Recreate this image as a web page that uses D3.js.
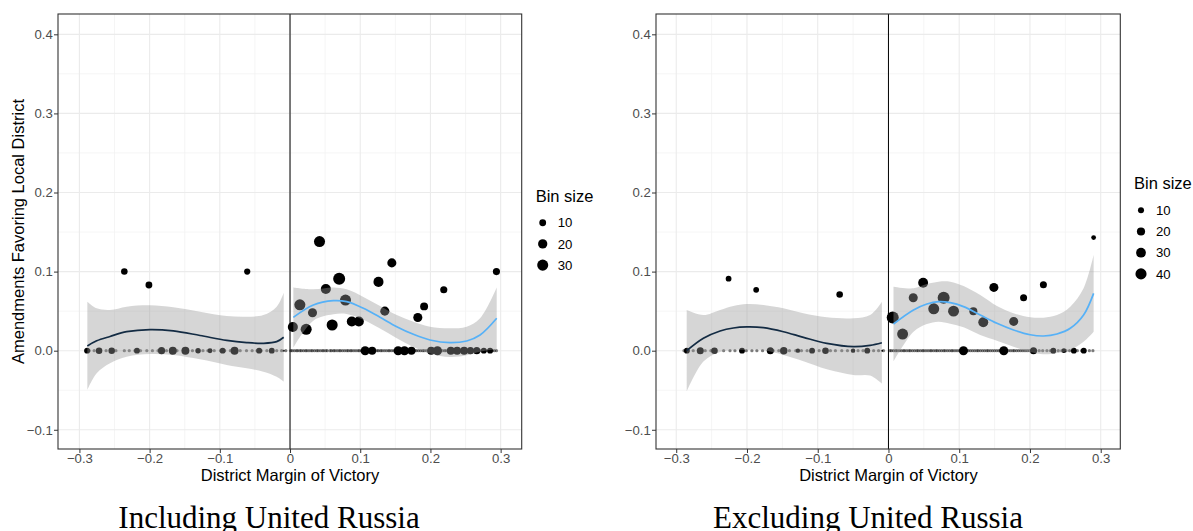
<!DOCTYPE html>
<html>
<head>
<meta charset="utf-8">
<script src="https://cdn.jsdelivr.net/npm/d3@7"></script>
<style>
  html, body { margin: 0; padding: 0; background: #fff; }
  svg { display: block; }
  text { font-family: "Liberation Sans", Arial, sans-serif; }
</style>
</head>
<body>
<svg id="chart" width="1193" height="531"></svg>
<script>
// ticks shared by both panels
const xTickVals = [-0.3, -0.2, -0.1, 0, 0.1, 0.2, 0.3];
const xTickLabels = ["\u22120.3", "\u22120.2", "\u22120.1", "0", "0.1", "0.2", "0.3"];
const xMinorVals = [-0.25, -0.15, -0.05, 0.05, 0.15, 0.25];
const yTickVals = [-0.1, 0, 0.1, 0.2, 0.3, 0.4];
const yTickLabels = ["\u22120.1", "0.0", "0.1", "0.2", "0.3", "0.4"];
const yMinorVals = [-0.05, 0.05, 0.15, 0.25, 0.35];

// ---- Including United Russia ----
const incBinX = [-0.289, -0.272, -0.254, -0.218, -0.183, -0.167, -0.149, -0.131, -0.114, -0.096, -0.079, -0.044, -0.026, -0.009,
  -0.236, -0.201, -0.061,
  0.004, 0.014, 0.023, 0.032, 0.042, 0.051, 0.060, 0.070, 0.079, 0.088, 0.098, 0.107, 0.117, 0.126, 0.135, 0.145,
  0.154, 0.163, 0.173, 0.182, 0.191, 0.201, 0.210, 0.219, 0.229, 0.238, 0.248, 0.257, 0.266, 0.276, 0.285, 0.294];
const incBinY = [0, 0, 0, 0, 0, 0, 0, 0, 0, 0, 0, 0, 0, 0,
  0.100, 0.083, 0.100,
  0.030, 0.058, 0.027, 0.048, 0.138, 0.078, 0.0325, 0.091, 0.064, 0.037, 0.037, 0, 0, 0.087, 0.050, 0.111,
  0, 0, 0, 0.042, 0.056, 0, 0, 0.077, 0, 0, 0, 0, 0, 0, 0, 0.100];
const incBinN = [7, 9, 9, 7, 11, 14, 14, 6, 5, 7, 14, 7, 7, 2,
  9, 10, 8,
  24, 30, 30, 19, 30, 24, 30, 36, 30, 24, 24, 19, 14, 24, 19, 19,
  19, 19, 14, 19, 14, 14, 19, 11, 14, 14, 14, 11, 11, 7, 7, 11];
const incRawX = [-0.291, -0.286, -0.279, -0.274, -0.262, -0.255, -0.248, -0.236, -0.229, -0.221, -0.213, -0.204,
  -0.196, -0.188, -0.181, -0.176, -0.169, -0.161, -0.152, -0.146, -0.139, -0.131, -0.124, -0.117, -0.108,
  -0.099, -0.093, -0.085, -0.077, -0.071, -0.062, -0.054, -0.047, -0.041, -0.033, -0.026, -0.019, -0.012, -0.006,
  0.001, 0.003, 0.006, 0.009, 0.011, 0.014, 0.016, 0.019, 0.022, 0.024, 0.027, 0.030, 0.032, 0.035, 0.038, 0.040,
  0.043, 0.046, 0.048, 0.051, 0.053, 0.057, 0.059, 0.062, 0.064, 0.067, 0.070, 0.072, 0.075, 0.078, 0.081, 0.083,
  0.086, 0.088, 0.091, 0.094, 0.097, 0.099, 0.102, 0.105, 0.107, 0.110, 0.113, 0.115, 0.118, 0.121, 0.124, 0.126,
  0.129, 0.131, 0.134, 0.137, 0.140, 0.142, 0.145, 0.148, 0.150, 0.153, 0.156, 0.159, 0.161, 0.164, 0.167, 0.169,
  0.172, 0.175, 0.178, 0.180, 0.183, 0.186, 0.189, 0.191, 0.194, 0.197, 0.200, 0.203, 0.205, 0.208, 0.211, 0.214,
  0.217, 0.220, 0.222, 0.225, 0.228, 0.231, 0.234, 0.237, 0.240, 0.243, 0.246, 0.249, 0.252, 0.255, 0.258, 0.261,
  0.264, 0.267, 0.270, 0.273, 0.276, 0.279, 0.282, 0.285, 0.288, 0.291, 0.294];
// smooth fits with confidence band, control side and treated side
const incFitLX = [-0.2887, -0.2754, -0.2564, -0.2327, -0.1994, -0.1662, -0.1282, -0.0902, -0.0617, -0.038, -0.019, -0.009];
const incFitLY = [0.006, 0.0125, 0.018, 0.024, 0.0267, 0.025, 0.0192, 0.013, 0.0102, 0.0093, 0.0114, 0.017];
const incFitLHi = [0.062, 0.0536, 0.0515, 0.0557, 0.0574, 0.0549, 0.0493, 0.0439, 0.043, 0.0451, 0.0557, 0.0733];
const incFitLLo = [-0.0497, -0.0286, -0.016, -0.0076, -0.0042, -0.0054, -0.0109, -0.018, -0.0223, -0.0265, -0.0329, -0.039];
const incFitRX = [0.0047, 0.0332, 0.0617, 0.0807, 0.1045, 0.1282, 0.152, 0.1757, 0.1994, 0.2279, 0.2517, 0.2707, 0.2944];
const incFitRY = [0.0422, 0.0578, 0.0632, 0.062, 0.0536, 0.0422, 0.0304, 0.0207, 0.0135, 0.0101, 0.0123, 0.0198, 0.041];
const incFitRHi = [0.080, 0.0776, 0.080, 0.0776, 0.068, 0.0565, 0.0451, 0.0367, 0.0304, 0.0283, 0.0304, 0.041, 0.080];
const incFitRLo = [0.004, 0.038, 0.046, 0.0464, 0.039, 0.028, 0.0157, 0.0047, -0.0034, -0.008, -0.0058, -0.0014, 0.002];
const incLegendSizes = [10, 20, 30];

// ---- Excluding United Russia ----
const excBinX = [-0.285, -0.266, -0.246, -0.207, -0.167, -0.148, -0.128, -0.108, -0.089, -0.050, -0.030, -0.009,
  -0.226, -0.187, -0.069,
  0.006, 0.020, 0.035, 0.049, 0.064, 0.078, 0.092, 0.106, 0.120, 0.134, 0.149, 0.163, 0.177, 0.191, 0.205,
  0.219, 0.233, 0.248, 0.262, 0.276, 0.290];
const excBinY = [0, 0, 0, 0, 0, 0, 0, 0, 0, 0, 0, 0,
  0.091, 0.077, 0.071,
  0.042, 0.021, 0.067, 0.086, 0.053, 0.067, 0.050, 0, 0.050, 0.036, 0.080, 0, 0.037, 0.067, 0,
  0.0835, 0, 0, 0, 0, 0.143];
const excBinN = [9, 14, 12, 9, 14, 16, 5, 9, 12, 5, 9, 2.5,
  9, 9, 12,
  48, 39, 25, 31, 39, 48, 39, 25, 19, 31, 25, 25, 25, 14, 14,
  14, 9, 6, 9, 9, 6];
const excRawX = [-0.289, -0.283, -0.276, -0.268, -0.259, -0.251, -0.244, -0.233, -0.224, -0.217, -0.209, -0.201,
  -0.193, -0.186, -0.178, -0.170, -0.163, -0.155, -0.147, -0.140, -0.131, -0.123, -0.115, -0.106, -0.098,
  -0.091, -0.082, -0.075, -0.066, -0.058, -0.051, -0.043, -0.036, -0.028, -0.021, -0.014, -0.007,
  0.002, 0.004, 0.007, 0.010, 0.012, 0.015, 0.018, 0.021, 0.023, 0.026, 0.029, 0.031, 0.034, 0.037, 0.040,
  0.042, 0.045, 0.048, 0.050, 0.053, 0.056, 0.059, 0.061, 0.064, 0.067, 0.069, 0.072, 0.075, 0.078, 0.080,
  0.083, 0.086, 0.089, 0.091, 0.094, 0.097, 0.100, 0.102, 0.105, 0.108, 0.111, 0.113, 0.116, 0.119, 0.122,
  0.125, 0.127, 0.130, 0.133, 0.136, 0.139, 0.141, 0.144, 0.147, 0.150, 0.153, 0.156, 0.158, 0.161, 0.164,
  0.167, 0.170, 0.173, 0.176, 0.178, 0.181, 0.184, 0.187, 0.190, 0.193, 0.196, 0.199, 0.203, 0.208, 0.213,
  0.218, 0.224, 0.229, 0.234, 0.240, 0.245, 0.251, 0.256, 0.262, 0.267, 0.273, 0.278, 0.284, 0.289];
const excFitLX = [-0.2852, -0.2616, -0.238, -0.2192, -0.2003, -0.1768, -0.1485, -0.1202, -0.0871, -0.0495, -0.0259, -0.0093];
const excFitLY = [0, 0.0157, 0.0249, 0.0287, 0.030, 0.0291, 0.024, 0.0169, 0.0093, 0.0051, 0.0068, 0.0101];
const excFitLHi = [0.0515, 0.0451, 0.0515, 0.0565, 0.059, 0.0578, 0.0536, 0.0473, 0.0422, 0.041, 0.0451, 0.062];
const excFitLLo = [-0.0515, -0.0137, -0.0017, 0.0009, 0.001, 0.0004, -0.0056, -0.0135, -0.0236, -0.0308, -0.0315, -0.0418];
const excFitRX = [0.0071, 0.0354, 0.0543, 0.0707, 0.0873, 0.1061, 0.1297, 0.1533, 0.1768, 0.2004, 0.2192, 0.2382, 0.257, 0.2758, 0.29];
const excFitRY = [0.0338, 0.0515, 0.059, 0.062, 0.0607, 0.0557, 0.0451, 0.0346, 0.0262, 0.0202, 0.0186, 0.0211, 0.0283, 0.0451, 0.0725];
const excFitRHi = [0.081, 0.0789, 0.0843, 0.0873, 0.0873, 0.0818, 0.0704, 0.0565, 0.0473, 0.0422, 0.0418, 0.0451, 0.0557, 0.0789, 0.121];
const excFitRLo = [-0.0134, 0.0241, 0.0337, 0.0367, 0.0341, 0.0296, 0.0198, 0.0127, 0.0051, -0.0018, -0.0046, -0.0029, 0.0009, 0.0113, 0.024];
const excLegendSizes = [10, 20, 30, 40];

const svg = d3.select("#chart");
svg.append("rect").attr("width", 1193).attr("height", 531).attr("fill", "#fff");

const navy = "#132B43";
const lightBlue = "#56B1F7";

function drawPanel(o) {
  const x = d3.scaleLinear().domain(o.xDomain).range(o.xRange);
  const y = d3.scaleLinear().domain([-0.1243, 0.4257]).range([449, 14]);
  const [left, right] = o.xRange;
  const top = 14, bottom = 449;

  // area-style size scale like ggplot's scale_size
  const nExt = d3.extent(o.binN);
  const rScale = d3.scaleLinear().domain([0, 1]).range([1, 6]);
  const radius = (n) => rScale(Math.sqrt(Math.max(0, n - nExt[0]) / (nExt[1] - nExt[0])));

  const g = svg.append("g");

  // grid
  g.selectAll(".xminor").data(xMinorVals).join("line")
    .attr("x1", d => x(d)).attr("x2", d => x(d)).attr("y1", top).attr("y2", bottom)
    .attr("stroke", "#f2f2f2").attr("stroke-width", 0.8);
  g.selectAll(".yminor").data(yMinorVals).join("line")
    .attr("x1", left).attr("x2", right).attr("y1", d => y(d)).attr("y2", d => y(d))
    .attr("stroke", "#f2f2f2").attr("stroke-width", 0.8);
  g.append("g").selectAll("line").data(xTickVals).join("line")
    .attr("x1", d => x(d)).attr("x2", d => x(d)).attr("y1", top).attr("y2", bottom)
    .attr("stroke", "#ebebeb").attr("stroke-width", 1.1);
  g.append("g").selectAll("line").data(yTickVals).join("line")
    .attr("x1", left).attr("x2", right).attr("y1", d => y(d)).attr("y2", d => y(d))
    .attr("stroke", "#ebebeb").attr("stroke-width", 1.1);

  // raw observations at zero
  g.append("g").selectAll("circle").data(o.rawX).join("circle")
    .attr("cx", d => x(d)).attr("cy", y(0)).attr("r", 1.6)
    .attr("fill", "#000").attr("fill-opacity", 0.5);

  // binned means
  g.append("g").selectAll("circle").data(o.binX).join("circle")
    .attr("cx", d => x(d)).attr("cy", (d, i) => y(o.binY[i])).attr("r", (d, i) => radius(o.binN[i]))
    .attr("fill", "#000");

  // smooths
  o.fits.forEach(f => {
    const pts = f.x.map((v, i) => ({ x: v, y: f.y[i], lo: f.lo[i], hi: f.hi[i] }));
    g.append("path").datum(pts)
      .attr("d", d3.area().x(d => x(d.x)).y0(d => y(d.lo)).y1(d => y(d.hi)).curve(d3.curveCatmullRom))
      .attr("fill", "#999").attr("fill-opacity", 0.4);
    g.append("path").datum(pts)
      .attr("d", d3.line().x(d => x(d.x)).y(d => y(d.y)).curve(d3.curveCatmullRom))
      .attr("fill", "none").attr("stroke", f.color).attr("stroke-width", 1.7);
  });

  // cutoff
  g.append("line").attr("x1", x(0)).attr("x2", x(0)).attr("y1", top).attr("y2", bottom)
    .attr("stroke", "#000").attr("stroke-width", 1);

  // border
  g.append("rect").attr("x", left).attr("y", top).attr("width", right - left).attr("height", bottom - top)
    .attr("fill", "none").attr("stroke", "#333").attr("stroke-width", 1.1);

  // axes
  const xAxis = g.append("g").attr("transform", `translate(0,${bottom})`)
    .call(d3.axisBottom(x).tickValues(xTickVals).tickFormat((d, i) => xTickLabels[i]).tickSize(4).tickPadding(0.8));
  const yAxis = g.append("g").attr("transform", `translate(${left},0)`)
    .call(d3.axisLeft(y).tickValues(yTickVals).tickFormat((d, i) => yTickLabels[i]).tickSize(4).tickPadding(1.2));
  [xAxis, yAxis].forEach(a => {
    a.select(".domain").remove();
    a.selectAll(".tick line").attr("stroke", "#333");
    a.selectAll(".tick text").attr("fill", "#4d4d4d").style("font-size", "13.2px")
      .style("font-family", "'Liberation Sans', Arial, sans-serif");
  });

  svg.append("text").attr("x", x(0)).attr("y", 480.5).attr("text-anchor", "middle")
    .style("font-size", "16.5px").attr("fill", "#000").text("District Margin of Victory");

  if (o.yTitle) {
    svg.append("text").attr("transform", `translate(24,${(top + bottom) / 2}) rotate(-90)`)
      .attr("text-anchor", "middle").style("font-size", "16.5px").attr("fill", "#000").text(o.yTitle);
  }

  // legend
  const lg = svg.append("g");
  lg.append("text").attr("x", o.legend.x).attr("y", o.legend.y).style("font-size", "16.5px")
    .attr("fill", "#000").text("Bin size");
  const keys = lg.selectAll("g.key").data(o.legendSizes).join("g")
    .attr("transform", (d, i) => `translate(${o.legend.x + 7},${o.legend.y + 21 + i * o.legend.step})`);
  keys.append("circle").attr("r", d => radius(d)).attr("fill", "#000");
  keys.append("text").attr("x", 15).attr("dy", "0.35em").style("font-size", "13.2px")
    .attr("fill", "#000").text(d => d);

  // caption
  svg.append("text").attr("x", o.captionX).attr("y", 528).attr("text-anchor", "middle")
    .style("font-family", "'Liberation Serif', 'Times New Roman', serif").style("font-size", "31px")
    .attr("fill", "#000").text(o.caption);
}

drawPanel({
  xDomain: [-0.3305, 0.3300], xRange: [58, 521.7],
  binX: incBinX, binY: incBinY, binN: incBinN, rawX: incRawX,
  fits: [
    { x: incFitLX, y: incFitLY, lo: incFitLLo, hi: incFitLHi, color: navy },
    { x: incFitRX, y: incFitRY, lo: incFitRLo, hi: incFitRHi, color: lightBlue }
  ],
  legendSizes: incLegendSizes, legend: { x: 535.7, y: 201.7, step: 21.2 },
  yTitle: "Amendments Favoring Local District",
  caption: "Including United Russia", captionX: 269
});

drawPanel({
  xDomain: [-0.3286, 0.3277], xRange: [656, 1120.3],
  binX: excBinX, binY: excBinY, binN: excBinN, rawX: excRawX,
  fits: [
    { x: excFitLX, y: excFitLY, lo: excFitLLo, hi: excFitLHi, color: navy },
    { x: excFitRX, y: excFitRY, lo: excFitRLo, hi: excFitRHi, color: lightBlue }
  ],
  legendSizes: excLegendSizes, legend: { x: 1134, y: 189.3, step: 21.2 },
  yTitle: null,
  caption: "Excluding United Russia", captionX: 868
});
</script>
</body>
</html>
